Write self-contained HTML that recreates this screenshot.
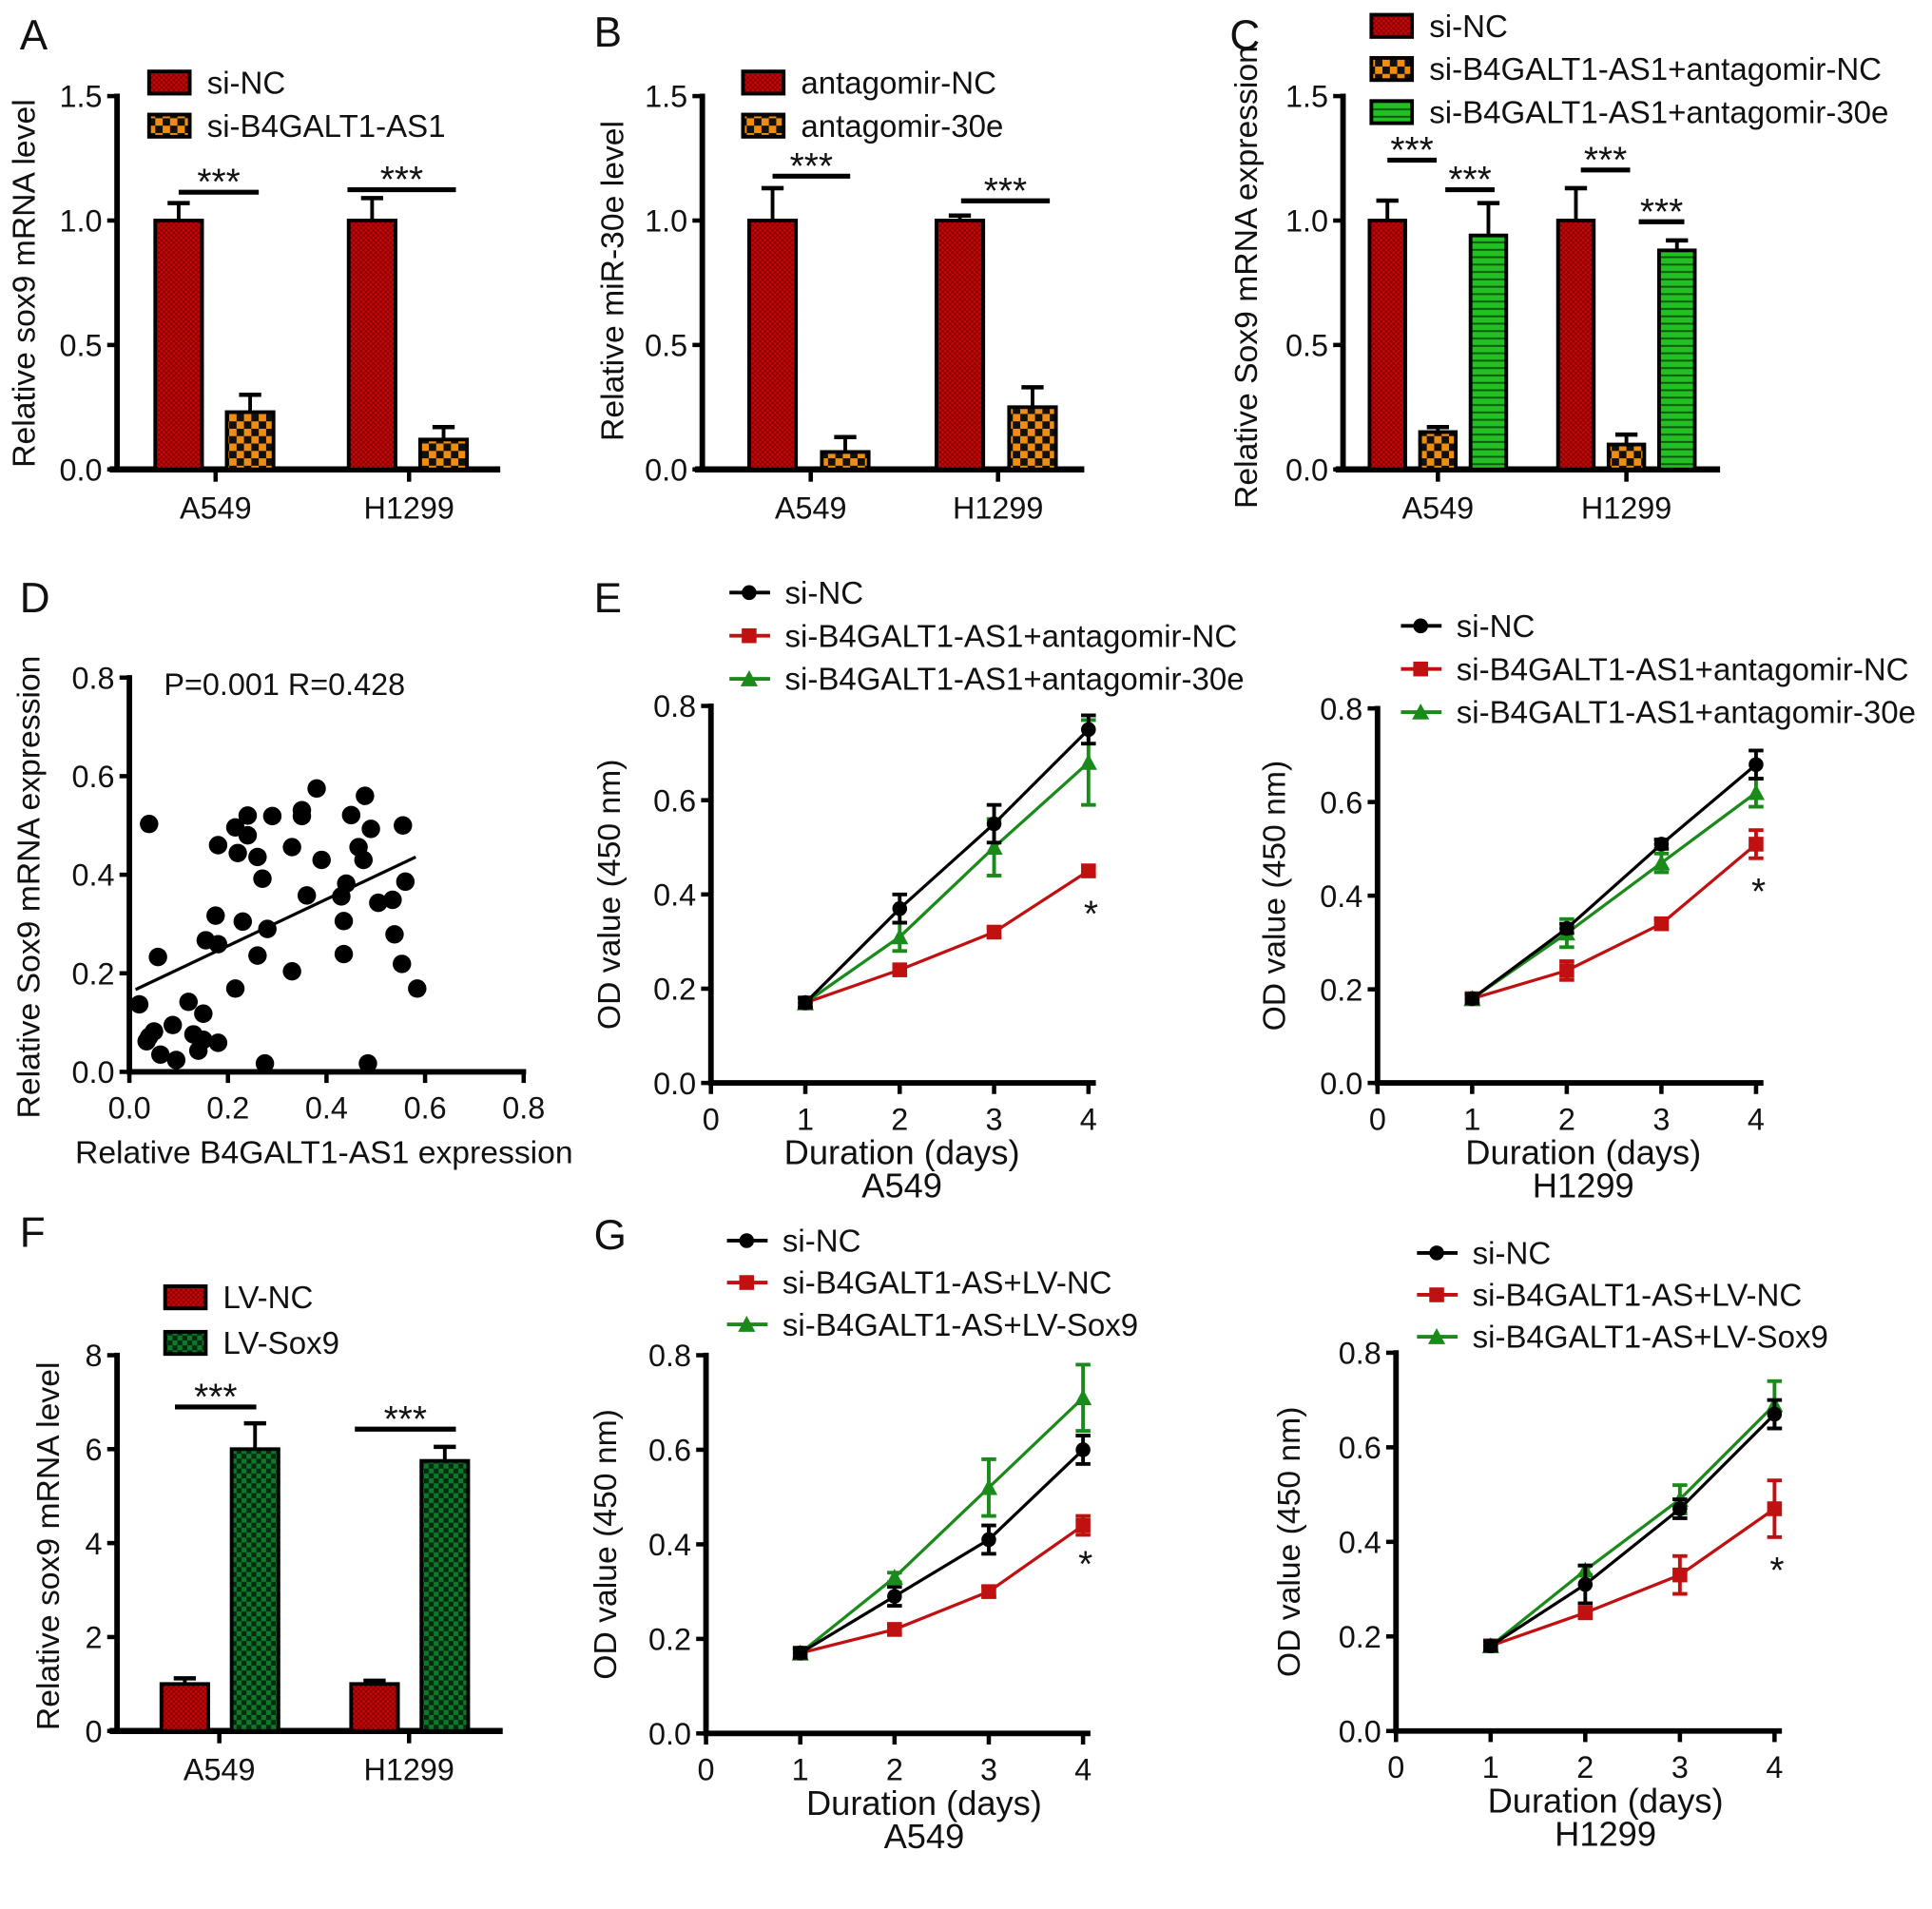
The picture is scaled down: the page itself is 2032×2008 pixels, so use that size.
<!DOCTYPE html>
<html><head><meta charset="utf-8"><style>
html,body{margin:0;padding:0;background:#fff}
svg{display:block}
text{font-family:"Liberation Sans",Arial,sans-serif;fill:#111}
</style></head><body>
<svg id="fig" xmlns="http://www.w3.org/2000/svg" width="2032" height="2008" viewBox="0 0 1568 1549.5" preserveAspectRatio="none">
<defs>
<pattern id="pRed" width="4" height="4" patternUnits="userSpaceOnUse"><rect width="4" height="4" fill="#c40808"/><rect width="2" height="2" fill="#8a0000"/><rect x="2" y="2" width="2" height="2" fill="#8a0000"/></pattern>
<pattern id="pOrange" width="12" height="12" patternUnits="userSpaceOnUse"><rect width="12" height="12" fill="#f08c10"/><rect width="6" height="6" fill="#111"/><rect x="6" y="6" width="6" height="6" fill="#111"/></pattern>
<pattern id="pGreen" width="6" height="6" patternUnits="userSpaceOnUse"><rect width="6" height="6" fill="#22c022"/><rect y="4" width="6" height="1.5" fill="#0b5a0b"/></pattern>
<pattern id="pDkGreen" width="8" height="8" patternUnits="userSpaceOnUse"><rect width="8" height="8" fill="#0c7a2a"/><rect width="4" height="4" fill="#062a10"/><rect x="4" y="4" width="4" height="4" fill="#062a10"/></pattern>
</defs>
</svg>
<script>
// ---------- data ----------
const barCats = ["A549","H1299"];
const aLabels = ["si-NC","si-B4GALT1-AS1"];
const aVals = [[1.0,1.0],[0.23,0.12]];
const aErr = [[0.07,0.09],[0.07,0.05]];
const bLabels = ["antagomir-NC","antagomir-30e"];
const bVals = [[1.0,1.0],[0.07,0.25]];
const bErr = [[0.13,0.02],[0.06,0.08]];
const cLabels = ["si-NC","si-B4GALT1-AS1+antagomir-NC","si-B4GALT1-AS1+antagomir-30e"];
const cVals = [[1.0,1.0],[0.15,0.10],[0.94,0.88]];
const cErr = [[0.08,0.13],[0.02,0.04],[0.13,0.04]];
const fLabels = ["LV-NC","LV-Sox9"];
const fVals = [[1.0,1.0],[6.0,5.75]];
const fErr = [[0.12,0.07],[0.55,0.3]];
const ticks15 = ["0.0","0.5","1.0","1.5"];
const ticks8 = ["0","2","4","6","8"];
const ticksOD = ["0.0","0.2","0.4","0.6","0.8"];
const daysTicks = ["0","1","2","3","4"];
const days = [1,2,3,4];
const scX = [0.02,0.04,0.04,0.05,0.035,0.058,0.063,0.088,0.095,0.12,0.13,0.14,0.15,0.15,0.18,0.155,0.175,0.18,0.18,0.215,0.22,0.215,0.23,0.24,0.24,0.26,0.27,0.26,0.28,0.275,0.29,0.33,0.33,0.35,0.35,0.38,0.39,0.36,0.44,0.43,0.435,0.435,0.45,0.465,0.475,0.478,0.49,0.484,0.505,0.534,0.538,0.553,0.555,0.56,0.584];
const scY = [0.137,0.503,0.071,0.082,0.062,0.233,0.035,0.095,0.024,0.142,0.076,0.043,0.118,0.065,0.059,0.267,0.317,0.259,0.46,0.496,0.444,0.169,0.305,0.52,0.48,0.436,0.392,0.236,0.29,0.017,0.519,0.456,0.204,0.531,0.519,0.575,0.43,0.358,0.382,0.356,0.306,0.239,0.521,0.456,0.43,0.56,0.493,0.017,0.343,0.349,0.279,0.219,0.5,0.386,0.169];
const regX = [0.0125,0.581];
const regY = [0.167,0.436];
const scTicks = ["0.0","0.2","0.4","0.6","0.8"];
const eLegend = ["si-NC","si-B4GALT1-AS1+antagomir-NC","si-B4GALT1-AS1+antagomir-30e"];
const gLegend = ["si-NC","si-B4GALT1-AS+LV-NC","si-B4GALT1-AS+LV-Sox9"];
const e1Vals = [[0.17,0.37,0.55,0.75],[0.17,0.24,0.32,0.45],[0.17,0.31,0.50,0.68]];
const e1Err = [[0.01,0.03,0.04,0.03],[0.01,0.01,0.01,0.01],[0.01,0.03,0.06,0.09]];
const e2Vals = [[0.18,0.33,0.51,0.68],[0.18,0.24,0.34,0.51],[0.18,0.32,0.47,0.62]];
const e2Err = [[0.01,0.01,0.01,0.03],[0.01,0.02,0.01,0.03],[0.01,0.03,0.02,0.03]];
const g1Vals = [[0.17,0.29,0.41,0.60],[0.17,0.22,0.30,0.44],[0.17,0.33,0.52,0.71]];
const g1Err = [[0.01,0.02,0.03,0.03],[0.01,0.01,0.01,0.02],[0.01,0.01,0.06,0.07]];
const g2Vals = [[0.18,0.31,0.47,0.67],[0.18,0.25,0.33,0.47],[0.18,0.34,0.49,0.69]];
const g2Err = [[0.01,0.04,0.02,0.03],[0.01,0.01,0.04,0.06],[0.01,0.01,0.03,0.05]];

// ---------- helpers ----------
const NS = "http://www.w3.org/2000/svg";
const svg = document.getElementById("fig");
function el(tag, attrs, parent){
  const e = document.createElementNS(NS, tag);
  for (const k in attrs) e.setAttribute(k, attrs[k]);
  (parent || svg).appendChild(e);
  return e;
}
function txt(s, x, y, size, anchor, parent, rot){
  const t = el("text", {x:x, y:y, "font-size":size, "text-anchor":anchor||"start"}, parent);
  if (rot) t.setAttribute("transform", "rotate(-90 " + x + " " + y + ")");
  t.textContent = s;
  return t;
}
function group(name){
  const g = el("g", {});
  
  
  return g;
}

// ---------- bar panel ----------
function barPanel(p){
  const g = group(p.name);
  const y = v => p.y0 - (v / p.max) * (p.y0 - p.y1);
  const letter = txt(p.letter, p.letterX, p.letterY, 34, "start", g);
  
  
  const ax = el("line", {x1:p.ax, y1:p.y1-2, x2:p.ax, y2:p.y0+2, stroke:"#000", "stroke-width":4.5}, g);
  
  
  const xa = el("line", {x1:p.ax-6, y1:p.y0, x2:p.xEnd, y2:p.y0, stroke:"#000", "stroke-width":5}, g);
  
  
  p.ticks.forEach((t, i) => {
    const v = parseFloat(t);
    el("line", {x1:p.ax-8, y1:y(v), x2:p.ax, y2:y(v), stroke:"#000", "stroke-width":3.5}, g);
    const tl = txt(t, p.ax-12, y(v)+9, 25, "end", g);
    
    
  });
  const yt = txt(p.ytitle, p.ytX, p.ytY, 26, "middle", g, true);
  
  
  barCats.forEach((c, ci) => {
    const cx = p.cats[ci];
    el("line", {x1:cx, y1:p.y0, x2:cx, y2:p.y0+10, stroke:"#000", "stroke-width":3.5}, g);
    const cl = txt(c, cx, p.y0+40, 25, "middle", g);
    
    
    p.vals.forEach((ser, si) => {
      const bx = cx + p.offs[si] - p.bw/2;
      const v = ser[ci], e = p.err[si][ci];
      el("line", {x1:bx+p.bw/2, y1:y(v), x2:bx+p.bw/2, y2:y(v+e), stroke:"#000", "stroke-width":3}, g);
      el("line", {x1:bx+p.bw/2-9, y1:y(v+e), x2:bx+p.bw/2+9, y2:y(v+e), stroke:"#000", "stroke-width":3.5}, g);
      const r = el("rect", {x:bx, y:y(v), width:p.bw, height:p.y0-y(v), fill:"url(#"+p.fills[si]+")", stroke:"#000", "stroke-width":3}, g);
      
      
    });
  });
  p.sig.forEach(s => {
    el("line", {x1:s[0], y1:s[2], x2:s[1], y2:s[2], stroke:"#000", "stroke-width":4}, g);
    const st = txt("***", (s[0]+s[1])/2, s[2]+2, 30, "middle", g);
    st.setAttribute("fill", "#555");
    
    
  });
  p.labels.forEach((l, i) => {
    const ly = p.legY + i*p.legDy;
    const sw = el("rect", {x:p.legX, y:ly-9, width:33, height:18, fill:"url(#"+p.fills[i]+")", stroke:"#000", "stroke-width":3}, g);
    
    
    const lt = txt(l, p.legX+47, ly+9, 25.5, "start", g);
    
    
  });
}

barPanel({name:"panel-a", letter:"A", letterX:16, letterY:40, ax:95, y0:381, y1:78, max:1.5, xEnd:406, ticks:ticks15,
  ytitle:"Relative sox9 mRNA level", ytX:28, ytY:230, cats:[175,332], offs:[-30,28], bw:38,
  vals:aVals, err:aErr, fills:["pRed","pOrange"], labels:aLabels, legX:121, legY:67, legDy:35,
  sig:[[145,210,156],[282,370,154]]});
barPanel({name:"panel-b", letter:"B", letterX:482, letterY:38, ax:570, y0:381, y1:78, max:1.5, xEnd:880, ticks:ticks15,
  ytitle:"Relative miR-30e level", ytX:506, ytY:228, cats:[658,810], offs:[-31,28], bw:38,
  vals:bVals, err:bErr, fills:["pRed","pOrange"], labels:bLabels, legX:603, legY:67, legDy:35,
  sig:[[627,690,143],[780,852,163]]});
barPanel({name:"panel-c", letter:"C", letterX:998, letterY:40, ax:1090, y0:381, y1:78, max:1.5, xEnd:1396, ticks:ticks15,
  ytitle:"Relative Sox9 mRNA expression", ytX:1020, ytY:225, cats:[1167,1320], offs:[-41,0,41], bw:29,
  vals:cVals, err:cErr, fills:["pRed","pOrange","pGreen"], labels:cLabels, legX:1113, legY:21, legDy:35,
  sig:[[1126,1166,130],[1173,1213,154],[1283,1323,138],[1330,1367,180]]});
barPanel({name:"panel-f", letter:"F", letterX:16, letterY:1012, ax:95, y0:1405, y1:1100, max:8, xEnd:408, ticks:ticks8,
  ytitle:"Relative sox9 mRNA level", ytX:48, ytY:1255, cats:[178,332], offs:[-28,29], bw:38,
  vals:fVals, err:fErr, fills:["pRed","pDkGreen"], labels:fLabels, legX:134, legY:1053, legDy:37,
  sig:[[142,208,1142],[288,370,1160]]});

// ---------- scatter panel ----------
(function(){
  const g = group("panel-d");
  const X0 = 105, Y0 = 870, sx = 400, sy = 400;
  const fx = v => X0 + v*sx, fy = v => Y0 - v*sy;
  const letter = txt("D", 16, 497, 34, "start", g);
  
  
  const ya = el("line", {x1:X0, y1:fy(0.8)-2, x2:X0, y2:Y0+2, stroke:"#000", "stroke-width":4.5}, g);
  
  
  const xa = el("line", {x1:X0-2, y1:Y0, x2:fx(0.8)+2, y2:Y0, stroke:"#000", "stroke-width":4.5}, g);
  
  
  scTicks.forEach(t => {
    const v = parseFloat(t);
    el("line", {x1:X0-8, y1:fy(v), x2:X0, y2:fy(v), stroke:"#000", "stroke-width":3.5}, g);
    const a = txt(t, X0-12, fy(v)+9, 25, "end", g);
    
    
    el("line", {x1:fx(v), y1:Y0, x2:fx(v), y2:Y0+9, stroke:"#000", "stroke-width":3.5}, g);
    const b = txt(t, fx(v), Y0+38, 25, "middle", g);
    
    
  });
  const xt = txt("Relative B4GALT1-AS1 expression", 263, 944, 26, "middle", g);
  
  
  const yt = txt("Relative Sox9 mRNA expression", 32, 720, 26, "middle", g, true);
  
  
  const st = txt("P=0.001 R=0.428", 133, 564, 25, "start", g);
  
  
  scX.forEach((x, i) => {
    const c = el("circle", {cx:fx(x), cy:fy(scY[i]), r:7.5, fill:"#000"}, g);
    
    
  });
  const rl = el("line", {x1:fx(regX[0]), y1:fy(regY[0]), x2:fx(regX[1]), y2:fy(regY[1]), stroke:"#000", "stroke-width":2.5}, g);
  
  
})();

// ---------- line panels ----------
const lineColors = ["#000","#c01010","#1a8a1a"];
function marker(kind, x, y, g){
  let m;
  if (kind === 0) m = el("circle", {cx:x, cy:y, r:6, fill:"#000"}, g);
  else if (kind === 1) m = el("rect", {x:x-6, y:y-6, width:12, height:12, fill:"#c01010"}, g);
  else m = el("polygon", {points:(x)+","+(y-7)+" "+(x-7)+","+(y+6)+" "+(x+7)+","+(y+6), fill:"#1a8a1a"}, g);
  return m;
}
function linePanel(p){
  const g = group(p.name);
  const fx = d => p.x0 + d*p.dx;
  const fy = v => p.y0 - (v/0.8)*(p.y0-p.y1);
  if (p.letter){
    const l = txt(p.letter, p.letterX, p.letterY, 34, "start", g);
    
    
  }
  const ya = el("line", {x1:p.x0, y1:p.y1-2, x2:p.x0, y2:p.y0+2, stroke:"#000", "stroke-width":4.5}, g);
  
  
  const xa = el("line", {x1:p.x0-2, y1:p.y0, x2:fx(4)+6, y2:p.y0, stroke:"#000", "stroke-width":4.5}, g);
  
  
  ticksOD.forEach(t => {
    const v = parseFloat(t);
    el("line", {x1:p.x0-8, y1:fy(v), x2:p.x0, y2:fy(v), stroke:"#000", "stroke-width":3.5}, g);
    const a = txt(t, p.x0-12, fy(v)+9, 25, "end", g);
    
    
  });
  daysTicks.forEach(t => {
    const d = parseFloat(t);
    el("line", {x1:fx(d), y1:p.y0, x2:fx(d), y2:p.y0+9, stroke:"#000", "stroke-width":3.5}, g);
    const b = txt(t, fx(d), p.y0+38, 25, "middle", g);
    
    
  });
  const xt = txt("Duration (days)", p.dtX, p.y0+66, 28, "middle", g);
  
  
  const ct = txt(p.cell, p.dtX, p.y0+93, 28, "middle", g);
  
  
  const yt = txt("OD value (450 nm)", p.ytX, (p.y0+p.y1)/2, 26, "middle", g, true);
  
  
  [1,2,0].forEach(si => {
    const vals = p.vals[si], errs = p.err[si];
    const pts = days.map((d,i) => fx(d)+","+fy(vals[i])).join(" ");
    const pl = el("polyline", {points:pts, fill:"none", stroke:lineColors[si], "stroke-width":2.5}, g);
    
    
    days.forEach((d,i) => {
      const x = fx(d);
      el("line", {x1:x, y1:fy(vals[i]-errs[i]), x2:x, y2:fy(vals[i]+errs[i]), stroke:lineColors[si], "stroke-width":3}, g);
      el("line", {x1:x-6, y1:fy(vals[i]+errs[i]), x2:x+6, y2:fy(vals[i]+errs[i]), stroke:lineColors[si], "stroke-width":3}, g);
      el("line", {x1:x-6, y1:fy(vals[i]-errs[i]), x2:x+6, y2:fy(vals[i]-errs[i]), stroke:lineColors[si], "stroke-width":3}, g);
      const m = marker(si, x, fy(vals[i]), g);
      
      
    });
  });
  const as = txt("*", fx(4)+2, p.astY, 30, "middle", g);
  
  
  p.legend.forEach((l, i) => {
    const ly = p.legY + i*p.legDy;
    el("line", {x1:p.legX, y1:ly, x2:p.legX+33, y2:ly, stroke:lineColors[i], "stroke-width":3}, g);
    marker(i, p.legX+16, ly, g);
    const lt = txt(l, p.legX+45, ly+9, 25.5, "start", g);
    
    
  });
}
linePanel({name:"panel-e-a549", letter:"E", letterX:482, letterY:497, x0:577, dx:76.6, y0:879, y1:573, vals:e1Vals, err:e1Err,
  dtX:732, cell:"A549", ytX:503, astY:752, legend:eLegend, legX:592, legY:481, legDy:35});
linePanel({name:"panel-e-h1299", x0:1118, dx:76.8, y0:879, y1:575, vals:e2Vals, err:e2Err,
  dtX:1285, cell:"H1299", ytX:1043, astY:734, legend:eLegend, legX:1137, legY:508, legDy:35});
linePanel({name:"panel-g-a549", letter:"G", letterX:482, letterY:1014, x0:573, dx:76.5, y0:1407, y1:1100, vals:g1Vals, err:g1Err,
  dtX:750, cell:"A549", ytX:500, astY:1280, legend:gLegend, legX:590, legY:1007, legDy:34});
linePanel({name:"panel-g-h1299", x0:1133, dx:76.8, y0:1405, y1:1098, vals:g2Vals, err:g2Err,
  dtX:1303, cell:"H1299", ytX:1055, astY:1285, legend:gLegend, legX:1150, legY:1017, legDy:34});
</script>
</body></html>
